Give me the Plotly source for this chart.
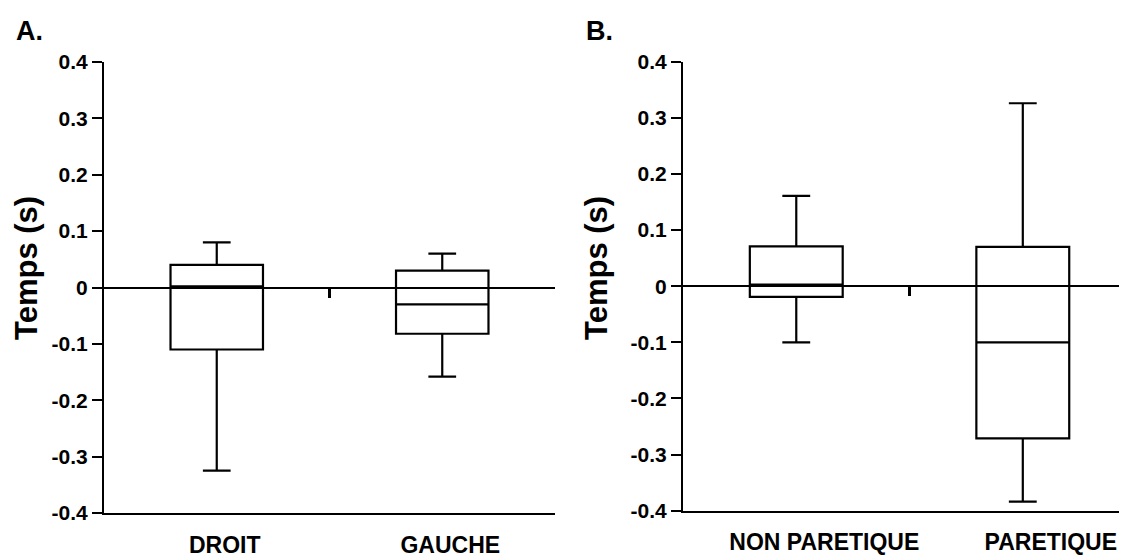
import plotly.graph_objects as go

# ---- data ----
cats_a = ["DROIT", "GAUCHE"]
lower_a = [-0.325, -0.158]
q1_a = [-0.11, -0.082]
med_a = [0.002, -0.03]
q3_a = [0.04, 0.03]
upper_a = [0.08, 0.06]

cats_b = ["NON PARETIQUE", "PARETIQUE"]
lower_b = [-0.10, -0.384]
q1_b = [-0.019, -0.271]
med_b = [0.003, -0.10]
q3_b = [0.071, 0.070]
upper_b = [0.161, 0.326]

ytick_vals = [-0.4, -0.3, -0.2, -0.1, 0, 0.1, 0.2, 0.3, 0.4]
ytick_text = ["-0.4", "-0.3", "-0.2", "-0.1", "0", "0.1", "0.2", "0.3", "0.4"]
y_title = "Temps (s)"
panel_labels = ["A.", "B."]

W, H = 1119, 551          # page body has an 8px margin
OFF = 8
FONT = "Liberation Sans, Arial, sans-serif"


def px(xr):
    return (xr - OFF) / W


def py(yr):
    return 1 - (yr - OFF) / H


fig = go.Figure()


def add_box(cats, lo, q1, med, q3, hi, xa, ya):
    fig.add_trace(go.Box(
        x=cats, lowerfence=lo, q1=q1, median=med, q3=q3, upperfence=hi,
        xaxis=xa, yaxis=ya, width=0.41, whiskerwidth=0.3,
        line=dict(color="black", width=2.2), fillcolor="rgba(0,0,0,0)",
        boxpoints=False, showlegend=False, hoverinfo="skip",
    ))


add_box(cats_a, lower_a, q1_a, med_a, q3_a, upper_a, "x", "y")
add_box(cats_b, lower_b, q1_b, med_b, q3_b, upper_b, "x2", "y2")

dom_xa = [px(104), px(555)]
dom_xb = [px(683), 1.0]
dom_ya = [py(513), py(62)]
dom_yb = [py(510.7), py(61.7)]

yax = dict(
    range=[-0.4, 0.4], tickvals=ytick_vals, ticktext=ytick_text,
    ticks="outside", ticklen=10, tickwidth=2, tickcolor="black",
    showline=True, linecolor="black", linewidth=2.2, showgrid=False,
    zeroline=True, zerolinecolor="black", zerolinewidth=1.8, automargin=False,
    tickfont=dict(family=FONT, size=21, color="black", weight="bold"),
)
xax = dict(
    type="category", ticks="outside", ticklen=10, tickcolor="rgba(0,0,0,0)",
    showline=True, linecolor="black", linewidth=2.2, showgrid=False, automargin=False,
    tickfont=dict(family=FONT, size=23, color="black", weight="bold"),
)
midtick = dict(
    type="linear", ticks="outside", ticklen=9, tickwidth=2.5, tickcolor="black",
    tickvals=[0.5], showticklabels=False, showline=False, showgrid=False,
    zeroline=False, anchor="free", side="bottom", automargin=False,
)

fig.update_layout(
    width=W, height=H, margin=dict(l=0, r=0, t=0, b=0, pad=0, autoexpand=False),
    paper_bgcolor="white", plot_bgcolor="white",
    xaxis=dict(xax, domain=dom_xa, range=[-0.5, 1.5], anchor="y", ticklabelshift=8),
    yaxis=dict(yax, domain=dom_ya, anchor="x"),
    xaxis2=dict(xax, domain=dom_xb, range=[-0.5, 1.46], anchor="y2", ticklabelshift=28),
    yaxis2=dict(yax, domain=dom_yb, anchor="x2"),
    xaxis3=dict(midtick, overlaying="x", range=[-0.5, 1.5],
                position=(dom_ya[0] + dom_ya[1]) / 2),
    xaxis4=dict(midtick, overlaying="x2", range=[-0.5, 1.46],
                position=(dom_yb[0] + dom_yb[1]) / 2),
)

# empty helper traces so the overlay tick axes are drawn
fig.add_trace(go.Scatter(x=[], y=[], xaxis="x3", yaxis="y", showlegend=False))
fig.add_trace(go.Scatter(x=[], y=[], xaxis="x4", yaxis="y2", showlegend=False))

for lab, xr in zip(panel_labels, [14, 584]):
    fig.add_annotation(text=lab, xref="paper", yref="paper", x=px(xr), y=py(31),
                       xanchor="left", yanchor="middle", showarrow=False,
                       font=dict(family=FONT, size=27, color="black", weight="bold"))
for xr in [26, 596]:
    fig.add_annotation(text=y_title, xref="paper", yref="paper", x=px(xr), y=py(268),
                       xanchor="center", yanchor="middle", textangle=-90, showarrow=False,
                       font=dict(family=FONT, size=31, color="black", weight="bold"))

fig.write_html("out.html")
